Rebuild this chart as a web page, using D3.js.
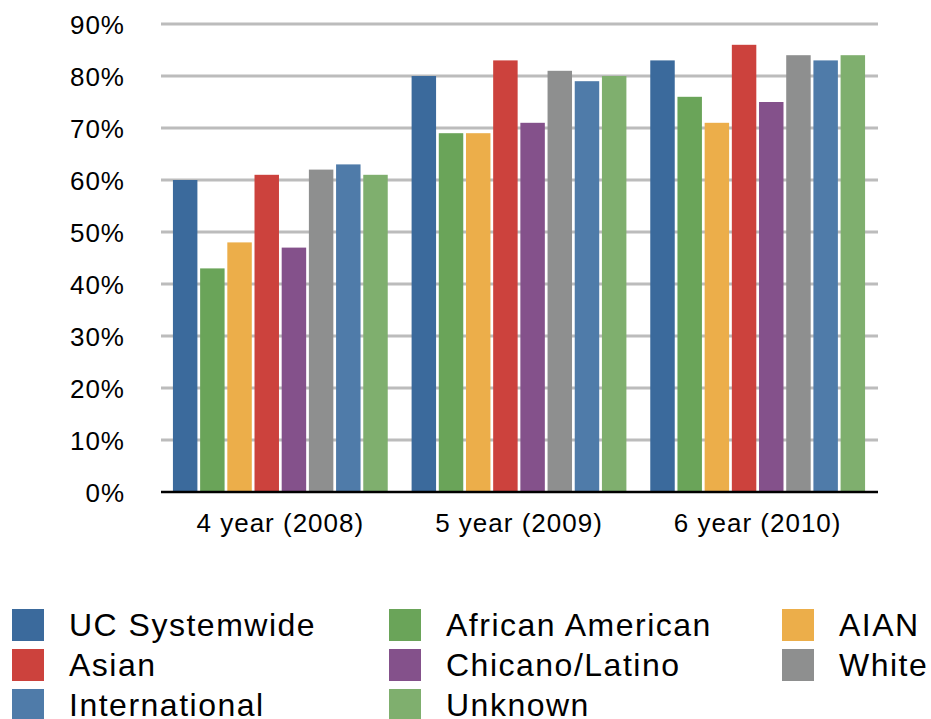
<!DOCTYPE html>
<html>
<head>
<meta charset="utf-8">
<script src="https://cdn.jsdelivr.net/npm/d3@7"></script>
<style>
  body { margin: 0; background: #fff; }
  text { font-family: "Liberation Sans", Arial, Helvetica, sans-serif; fill: #000; }
</style>
</head>
<body>
<div id="vis"></div>
<script>
var groups = ['4 year (2008)', '5 year (2009)', '6 year (2010)'];
var series = ['UC Systemwide', 'African American', 'AIAN', 'Asian', 'Chicano/Latino', 'White', 'International', 'Unknown'];
var colours = ['#3b6a9c', '#6aa459', '#ecae4a', '#cc423d', '#84518b', '#8e8f8f', '#4f7ba9', '#7faf6e'];
var uc_systemwide = [60, 80, 83];
var african_american = [43, 69, 76];
var aian = [48, 69, 71];
var asian = [61, 83, 86];
var chicano_latino = [47, 71, 75];
var white = [62, 81, 84];
var international = [63, 79, 83];
var unknown = [61, 80, 84];
var y_ticks = [0, 10, 20, 30, 40, 50, 60, 70, 80, 90];

// legend order: row by row, three columns
var legend_order = ['UC Systemwide', 'African American', 'AIAN', 'Asian', 'Chicano/Latino', 'White', 'International', 'Unknown'];

var values = [uc_systemwide, african_american, aian, asian, chicano_latino, white, international, unknown];
var width = 931, height = 719;
var svg = d3.select('#vis').append('svg').attr('width', width).attr('height', height);

var x_scale = d3.scaleBand().domain(groups).range([161, 877]).paddingInner(0.1).paddingOuter(0.05);
var x_inner = d3.scaleBand().domain(series).range([0, x_scale.bandwidth()]).paddingInner(0.1);
var y_scale = d3.scaleLinear().domain([0, 90]).range([492, 24]);
var colour_scale = d3.scaleOrdinal().domain(series).range(colours);

// gridlines
svg.append('g').selectAll('line').data(y_ticks.slice(1)).enter().append('line')
  .attr('x1', 161).attr('x2', 878)
  .attr('y1', function(d) { return y_scale(d); })
  .attr('y2', function(d) { return y_scale(d); })
  .attr('stroke', '#bcbcbc').attr('stroke-width', 3);

// y labels
svg.append('g').selectAll('text').data(y_ticks).enter().append('text')
  .attr('x', 125).attr('y', function(d) { return y_scale(d) + 10; })
  .attr('text-anchor', 'end').attr('font-size', 26).attr('letter-spacing', 1)
  .text(function(d) { return d + '%'; });

// bars
var rows = [];
groups.forEach(function(g, gi) {
  series.forEach(function(s, si) {
    rows.push({ group: g, series: s, value: values[si][gi] });
  });
});
svg.append('g').selectAll('rect').data(rows).enter().append('rect')
  .attr('x', function(d) { return x_scale(d.group) + x_inner(d.series); })
  .attr('width', x_inner.bandwidth())
  .attr('y', function(d) { return y_scale(d.value); })
  .attr('height', function(d) { return y_scale(0) - y_scale(d.value); })
  .attr('fill', function(d) { return colour_scale(d.series); });

// x axis line
svg.append('line').attr('x1', 161).attr('x2', 878).attr('y1', 492).attr('y2', 492)
  .attr('stroke', '#000').attr('stroke-width', 2.5);

// x labels
svg.append('g').selectAll('text').data(groups).enter().append('text')
  .attr('x', function(d) { return x_scale(d) + x_scale.bandwidth() / 2; })
  .attr('y', 532).attr('text-anchor', 'middle').attr('font-size', 26).attr('letter-spacing', 1)
  .text(function(d) { return d; });

// legend
var col_x = [12, 389, 782];
var legend = svg.append('g').selectAll('g').data(legend_order).enter().append('g')
  .attr('transform', function(d, i) {
    return 'translate(' + col_x[i % 3] + ',' + (609 + Math.floor(i / 3) * 40) + ')';
  });
legend.append('rect').attr('width', 32).attr('height', 32)
  .attr('fill', function(d) { return colour_scale(d); });
legend.append('text').attr('x', 57).attr('y', 27).attr('font-size', 32).attr('letter-spacing', 1.5)
  .text(function(d) { return d; });
</script>
</body>
</html>
